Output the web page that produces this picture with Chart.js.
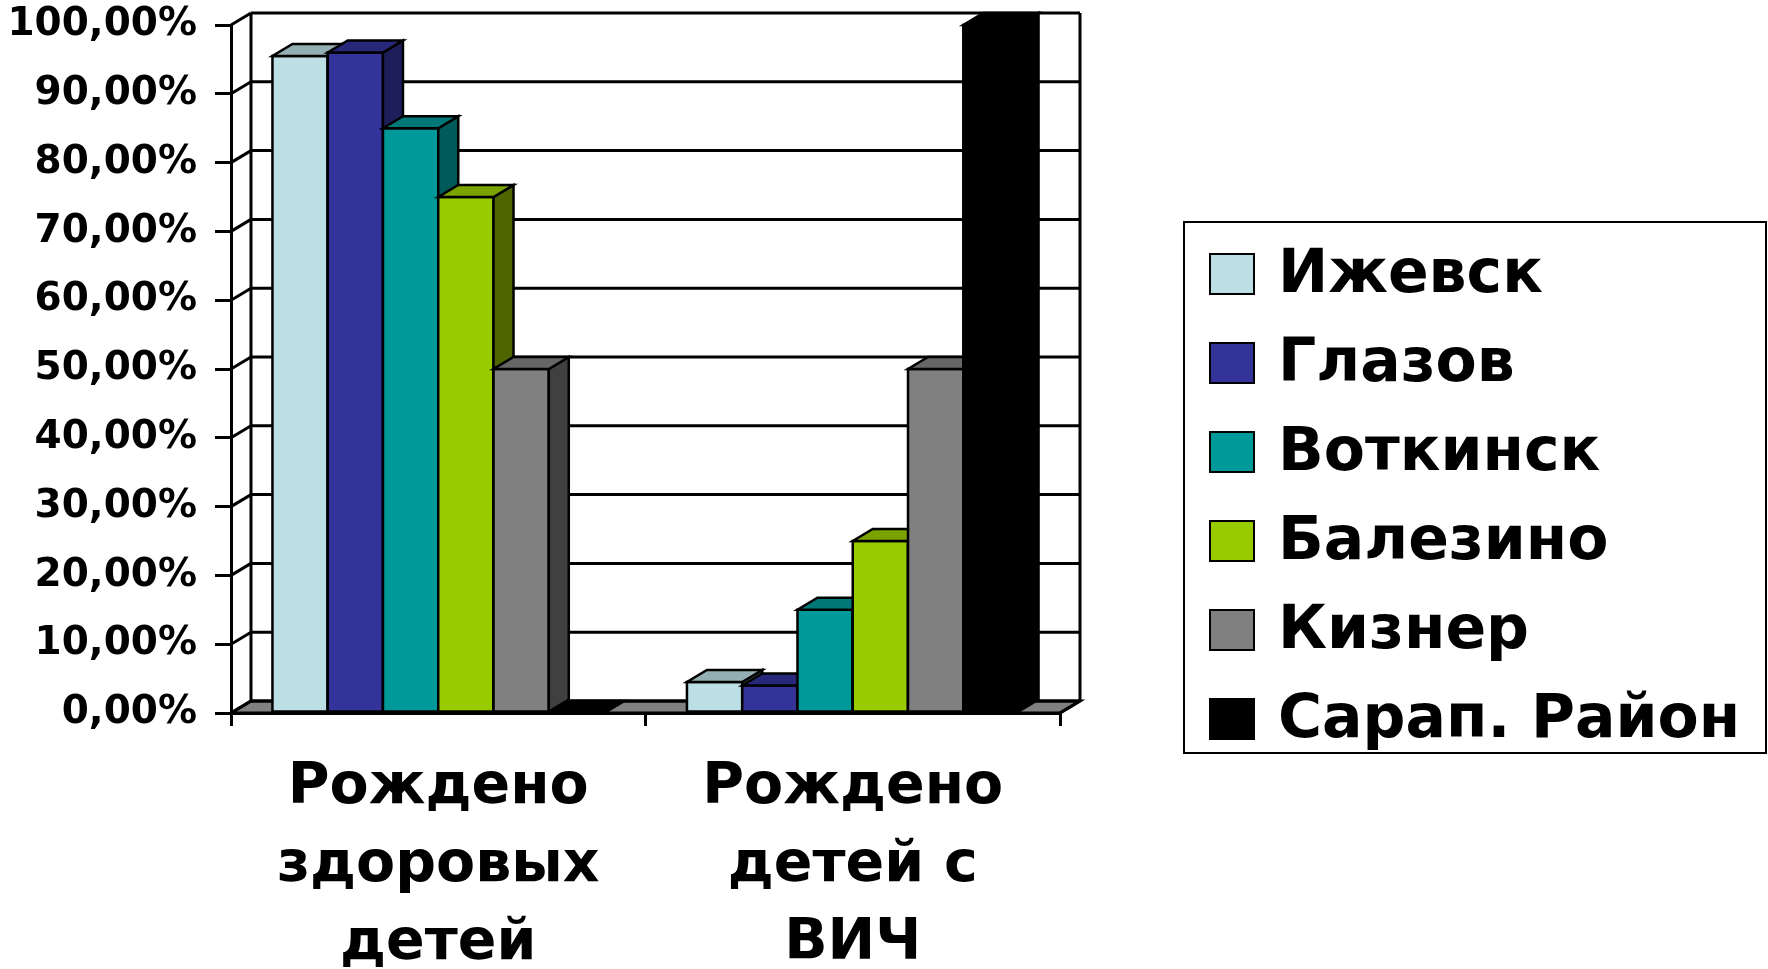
<!DOCTYPE html>
<html><head><meta charset="utf-8">
<script src="https://cdn.jsdelivr.net/npm/chart.js@4/dist/chart.umd.min.js"></script>
<style>html,body{margin:0;padding:0;background:#fff;overflow:hidden}canvas{display:block}</style>
</head><body>
<canvas id="c" width="1768" height="969"></canvas>
<script>
// ---- data ----
const categories = [["Рождено","здоровых","детей"],["Рождено","детей с","ВИЧ"]];
const seriesNames = ["Ижевск","Глазов","Воткинск","Балезино","Кизнер","Сарап. Район"];
const izhevsk  = [95.5, 4.5];
const glazov   = [96, 4];
const votkinsk = [85, 15];
const balezino = [75, 25];
const kizner   = [50, 50];
const sarap    = [0, 100];
const yTickLabels = ["0,00%","10,00%","20,00%","30,00%","40,00%","50,00%","60,00%","70,00%","80,00%","90,00%","100,00%"];
const seriesValues = [izhevsk, glazov, votkinsk, balezino, kizner, sarap];

// ---- styles ----
const frontColors = ["#bbdfe4","#333399","#009999","#99cc00","#808080","#000000"];
const topColors   = ["#94afb4","#28287a","#007878","#7aa300","#666666","#000000"];
const sideColors  = ["#5f7174","#1e1e5a","#005a5a","#4d6600","#404040","#000000"];
const DX = 20, DY = -12;
const FONT = "'DejaVu Sans', sans-serif";

function poly(ctx, pts, fill) {
  ctx.beginPath();
  ctx.moveTo(pts[0][0], pts[0][1]);
  for (let k = 1; k < pts.length; k++) ctx.lineTo(pts[k][0], pts[k][1]);
  ctx.closePath();
  if (fill) { ctx.fillStyle = fill; ctx.fill(); }
  ctx.stroke();
}
function line(ctx, x1, y1, x2, y2) {
  ctx.beginPath(); ctx.moveTo(x1, y1); ctx.lineTo(x2, y2); ctx.stroke();
}

const walls = {
  id: 'walls',
  beforeDatasetsDraw(chart) {
    const {ctx, chartArea: a, scales: {y}} = chart;
    ctx.save();
    ctx.strokeStyle = '#000'; ctx.lineWidth = 3;
    poly(ctx, [[a.left, a.bottom], [a.right, a.bottom], [a.right + DX, a.bottom + DY], [a.left + DX, a.bottom + DY]], '#808080');
    y.ticks.forEach(t => {
      const py = y.getPixelForValue(t.value);
      line(ctx, a.left, py, a.left + DX, py + DY);
      line(ctx, a.left + DX, py + DY, a.right + DX, py + DY);
    });
    line(ctx, a.left + DX, a.top + DY, a.left + DX, a.bottom + DY);
    line(ctx, a.right + DX, a.top + DY, a.right + DX, a.bottom + DY);
    line(ctx, a.right, a.bottom, a.right + DX, a.bottom + DY);
    ctx.restore();
  },
  afterDatasetsDraw(chart) {
    const {ctx} = chart;
    ctx.save();
    ctx.strokeStyle = '#000'; ctx.lineWidth = 2.5; ctx.lineJoin = 'miter';
    const n = chart.data.labels.length;
    for (let k = 0; k < n; k++) {
      chart.data.datasets.forEach((ds, i) => {
        const bar = chart.getDatasetMeta(i).data[k];
        const {x, y, base, width} = bar.getProps(['x', 'y', 'base', 'width'], true);
        const l = x - width / 2, r = x + width / 2;
        poly(ctx, [[l, y], [r, y], [r, base], [l, base]], frontColors[i]);
        poly(ctx, [[r, y], [r + DX, y + DY], [r + DX, base + DY], [r, base]], sideColors[i]);
        poly(ctx, [[l, y], [r, y], [r + DX, y + DY], [l + DX, y + DY]], topColors[i]);
      });
    }
    ctx.restore();
  },
  afterDraw(chart) {
    const {ctx} = chart;
    ctx.save();
    ctx.strokeStyle = '#000'; ctx.lineWidth = 2;
    ctx.strokeRect(1184, 222, 582, 531);
    ctx.font = "bold 60px " + FONT;
    ctx.textBaseline = 'middle';
    seriesNames.forEach((name, i) => {
      const cy = 274 + i * 89;
      ctx.fillStyle = frontColors[i];
      ctx.fillRect(1210, cy - 20, 44, 40);
      ctx.strokeRect(1210, cy - 20, 44, 40);
      ctx.fillStyle = '#000';
      ctx.fillText(name, 1278, cy + 2);
    });
    ctx.restore();
  }
};

new Chart(document.getElementById('c'), {
  type: 'bar',
  data: {
    labels: categories,
    datasets: seriesNames.map((name, i) => ({
      label: name,
      data: seriesValues[i],
      backgroundColor: frontColors[i],
      borderColor: '#000',
      borderWidth: 2,
      categoryPercentage: 0.8,
      barPercentage: 1.0
    }))
  },
  options: {
    responsive: false,
    animation: false,
    layout: { padding: { top: 25, right: 708, left: 0, bottom: 0 } },
    plugins: { legend: { display: false }, tooltip: { enabled: false } },
    scales: {
      x: {
        offset: true,
        grid: { offset: true, drawOnChartArea: false, drawTicks: true, tickLength: 13, color: '#000', lineWidth: 3 },
        border: { display: true, color: '#000', width: 3 },
        ticks: { color: '#000', padding: 23, autoSkip: false, maxRotation: 0, minRotation: 0,
                 font: { family: FONT, weight: 'bold', size: 57, lineHeight: 1.37 } },
        afterFit(scale) { scale.height = 256; scale.paddingLeft = 0; scale.paddingRight = 0; }
      },
      y: {
        min: 0, max: 100,
        grid: { drawOnChartArea: false, drawTicks: true, tickLength: 16, color: '#000', lineWidth: 3 },
        border: { display: true, color: '#000', width: 3 },
        ticks: { stepSize: 10, color: '#000', padding: 18,
                 font: { family: FONT, weight: 'bold', size: 39 },
                 callback: (v, idx) => yTickLabels[idx] },
        afterFit(scale) { scale.width = 231; scale.paddingTop = 0; scale.paddingBottom = 0; }
      }
    }
  },
  plugins: [walls]
});
</script>
</body></html>
